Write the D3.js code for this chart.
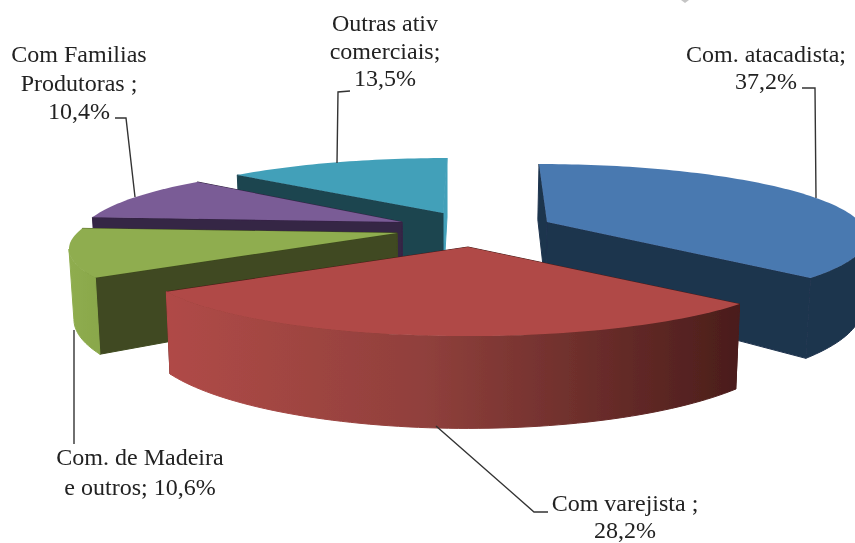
<!DOCTYPE html>
<html>
<head>
<meta charset="utf-8">
<script src="https://cdn.jsdelivr.net/npm/d3@7"></script>
<style>
  html, body { margin: 0; padding: 0; background: #fff; }
  svg { display: block; }
  text { font-family: "Liberation Serif", serif; font-size: 24px; fill: #222; text-anchor: middle; }
</style>
</head>
<body>
<script>
var categories = ["Com. atacadista", "Com varejista", "Com. de Madeira e outros", "Com Familias Produtoras", "Outras ativ comerciais"];
var values = [37.2, 28.2, 10.6, 10.4, 13.5];
var labelLines = [
    ["Com. atacadista;", "37,2%"],
    ["Com varejista ;", "28,2%"],
    ["Com. de Madeira", "e outros; 10,6%"],
    ["Com Familias", "Produtoras ;", "10,4%"],
    ["Outras ativ", "comerciais;", "13,5%"]
];

// colours per slice
var topColors = ["#4a79b0", "#b04a47", "#8fad4f", "#7a5b96", "#43a0b9"];
var cutColors = ["#1f344e", "#4a1d1b", "#3f4a20", "#352545", "#1c4450"];
var wallStops = [
    [["0", "#1f344e"], ["1", "#1f344e"]],
    [["0", "#b04a47"], ["0.45", "#90403c"], ["1", "#4a1d1b"]],
    [["0", "#8fad4f"], ["1", "#8aa84b"]],
    [["0", "#352545"], ["1", "#352545"]],
    [["0", "#43a0b9"], ["1", "#43a0b9"]]
];

// layout of the exploded slices, same order as categories
var centers = [[539, 221], [468, 247], [397, 233], [407, 222], [447, 215]];
var apexShift = [[8, 1], [0, 0], [0, 0], [-5, 0], [-4, -2]];
var depths = [68, 72, 67, 72, 72];
var drawOrder = [0, 4, 3, 2, 1];
var rx = 320, ry = 69.5, persp = 0.22;
var vanishX = 450, bottomShrink = 0.987;

// leader lines and label anchors
var leaders = [
    [[802, 88], [815, 88], [816, 198]],
    [[436, 426], [534, 512], [548, 512]],
    [[74, 330], [74, 444]],
    [[115, 118], [126, 118], [135, 197]],
    [[350, 91], [338, 92], [337, 163]]
];
var labelPos = [[766, 62], [625, 511], [140, 465], [79, 62], [385, 31]];
var lineHeights = [27, 26.5, 30, 28.5, 27.5];

var svg = d3.select("body").append("svg")
    .attr("width", 855)
    .attr("height", 543);

var defs = svg.append("defs");
defs.append("filter").attr("id", "soft")
    .append("feGaussianBlur").attr("stdDeviation", 0.5);
defs.append("filter").attr("id", "softText")
    .append("feGaussianBlur").attr("stdDeviation", 0.3);

var slices = d3.pie().sort(null).value(function (d) { return d; })(values);

// project an angle on the tilted disc, level 0 is the top face and 1 the bottom
function project(i, a, level, radius) {
    var c = centers[i],
        u = Math.sin(a) * radius,
        v = -Math.cos(a) * radius,
        s = 1 / (1 - persp * v),
        x = c[0] + rx * u * s + (radius ? 0 : apexShift[i][0]),
        y = c[1] + ry * v * s + (radius ? 0 : apexShift[i][1]);
    if (level) {
        x = vanishX + (x - vanishX) * bottomShrink;
        y = y + depths[i] * s;
    }
    return [x, y];
}

function arcPoints(i, a0, a1, level) {
    var n = Math.max(2, Math.ceil((a1 - a0) * 40));
    return d3.range(n + 1).map(function (k) {
        return project(i, a0 + (a1 - a0) * k / n, level, 1);
    });
}

var line = d3.line();
var g = svg.append("g").attr("filter", "url(#soft)");

// wall only shows where the rim faces the viewer
var wallFrom = Math.PI - Math.acos(persp),
    wallTo = Math.PI + Math.acos(persp);

function cutFace(i, a) {
    return [project(i, a, 0, 0), project(i, a, 0, 1), project(i, a, 1, 1), project(i, a, 1, 0)];
}

drawOrder.forEach(function (i) {
    var d = slices[i],
        a0 = d.startAngle,
        a1 = d.endAngle,
        sg = g.append("g").attr("class", "slice");

    var cuts = [a0, a1].sort(function (p, q) { return Math.cos(q) - Math.cos(p); });
    cuts.forEach(function (a) {
        // the last cut of the teal slice is seen edge on and stays light
        var fill = (i === 4 && a === a1) ? topColors[i] : cutColors[i];
        sg.append("path")
            .attr("d", line(cutFace(i, a)) + "Z")
            .attr("fill", fill)
            .attr("stroke", fill)
            .attr("stroke-width", 1);
    });

    var w0 = Math.max(a0, wallFrom), w1 = Math.min(a1, wallTo);
    if (w1 > w0) {
        var grad = defs.append("linearGradient")
            .attr("id", "wall" + i)
            .attr("gradientUnits", "userSpaceOnUse")
            .attr("x1", project(i, w1, 0, 1)[0])
            .attr("x2", project(i, w0, 0, 1)[0])
            .attr("y1", 0).attr("y2", 0);
        wallStops[i].forEach(function (s) {
            grad.append("stop").attr("offset", s[0]).attr("stop-color", s[1]);
        });
        var upper = arcPoints(i, w0, w1, 0),
            lower = arcPoints(i, w0, w1, 1).reverse();
        sg.append("path")
            .attr("d", line(upper.concat(lower)) + "Z")
            .attr("fill", "url(#wall" + i + ")")
            .attr("stroke", "url(#wall" + i + ")")
            .attr("stroke-width", 1);
    }

    var topFace = [project(i, a0, 0, 0)].concat(arcPoints(i, a0, a1, 0));
    sg.append("path").attr("d", line(topFace) + "Z").attr("fill", topColors[i]);
});

// leader lines
svg.selectAll(".leader").data(leaders).enter().append("path")
    .attr("class", "leader")
    .attr("d", function (d) { return line(d); })
    .attr("fill", "none")
    .attr("stroke", "#333")
    .attr("stroke-width", 1.4);

// labels
var labels = svg.append("g").attr("filter", "url(#softText)");
labelLines.forEach(function (lines, i) {
    lines.forEach(function (t, j) {
        labels.append("text")
            .attr("x", labelPos[i][0])
            .attr("y", labelPos[i][1] + j * lineHeights[i])
            .text(t);
    });
});

// small grey mark cut by the top edge
svg.append("path").attr("d", "M681,0L689,0L685,3Z").attr("fill", "#c4c4c4");
</script>
</body>
</html>
